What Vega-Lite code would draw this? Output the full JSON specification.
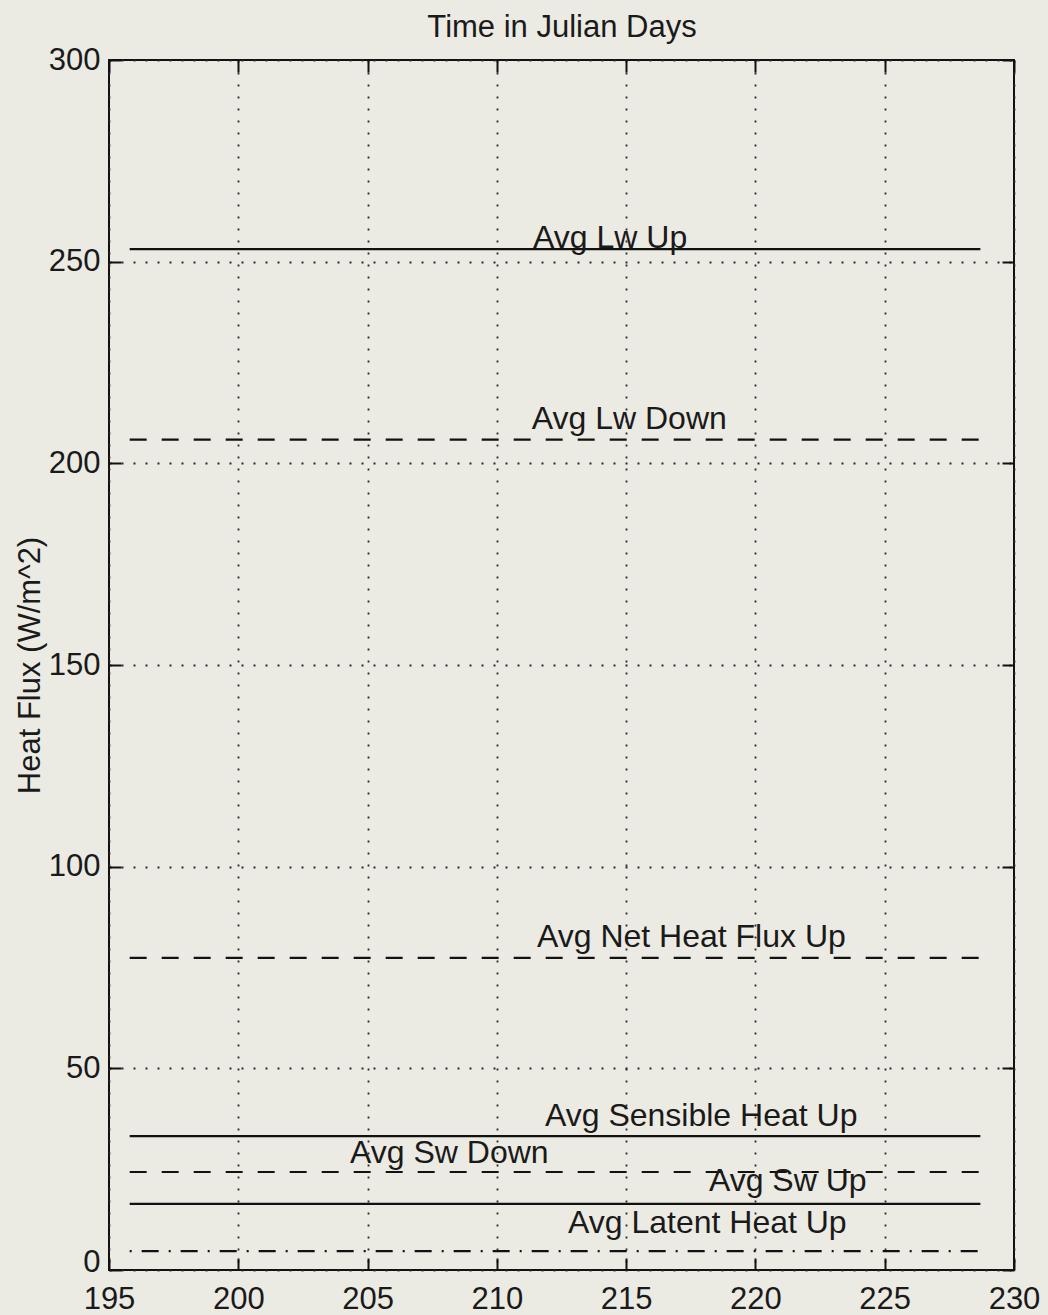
{
  "$schema": "https://vega.github.io/schema/vega-lite/v6.json",
  "width": 905,
  "height": 1210,
  "autosize": {"type": "none"},
  "padding": {"left": 109, "top": 60, "right": 34, "bottom": 45},
  "background": "#ecebe3",
  "config": {
    "view": {"stroke": "#111111", "strokeWidth": 2, "fill": "#ecebe3"},
    "font": "Liberation Sans",
    "axis": {
      "labelFont": "Liberation Sans",
      "labelFontSize": 31,
      "labelColor": "#1a1a1a",
      "titleFont": "Liberation Sans",
      "titleFontSize": 31,
      "titleFontWeight": "normal",
      "titleColor": "#1a1a1a",
      "domain": false,
      "tickColor": "#111111",
      "tickWidth": 2,
      "tickSize": -12,
      "gridColor": "#2a2a2a",
      "gridWidth": 1.8,
      "gridDash": [2, 10],
      "gridOpacity": 1,
      "labelFlush": false,
      "labelOverlap": false
    }
  },
  "datasets": {
    "lines": [
      {"series": "Avg Lw Up", "day": 195.8, "flux": 253.1},
      {"series": "Avg Lw Up", "day": 228.7, "flux": 253.1},
      {"series": "Avg Lw Down", "day": 195.8, "flux": 205.9},
      {"series": "Avg Lw Down", "day": 228.7, "flux": 205.9},
      {"series": "Avg Net Heat Flux Up", "day": 195.8, "flux": 77.4},
      {"series": "Avg Net Heat Flux Up", "day": 228.7, "flux": 77.4},
      {"series": "Avg Sensible Heat Up", "day": 195.8, "flux": 33.2},
      {"series": "Avg Sensible Heat Up", "day": 228.7, "flux": 33.2},
      {"series": "Avg Sw Down", "day": 195.8, "flux": 24.3},
      {"series": "Avg Sw Down", "day": 228.7, "flux": 24.3},
      {"series": "Avg Sw Up", "day": 195.8, "flux": 16.4},
      {"series": "Avg Sw Up", "day": 228.7, "flux": 16.4},
      {"series": "Avg Latent Heat Up", "day": 195.8, "flux": 4.7},
      {"series": "Avg Latent Heat Up", "day": 228.7, "flux": 4.7}
    ],
    "labels": [
      {"label": "Avg Lw Up", "day": 211.4, "flux": 253.3},
      {"label": "Avg Lw Down", "day": 211.35, "flux": 208.4},
      {"label": "Avg Net Heat Flux Up", "day": 211.55, "flux": 80.1},
      {"label": "Avg Sensible Heat Up", "day": 211.86, "flux": 35.7},
      {"label": "Avg Sw Down", "day": 204.32, "flux": 26.5},
      {"label": "Avg Sw Up", "day": 218.2, "flux": 19.6},
      {"label": "Avg Latent Heat Up", "day": 212.75, "flux": 9.2}
    ]
  },
  "layer": [
    {
      "data": {"name": "lines"},
      "mark": {"type": "line", "strokeWidth": 2.2, "color": "#111111", "clip": true},
      "encoding": {
        "x": {
          "field": "day", "type": "quantitative",
          "scale": {"domain": [195, 230], "nice": false, "zero": false},
          "axis": {"orient": "bottom", "values": [195, 200, 205, 210, 215, 220, 225, 230], "title": null, "grid": true, "labelPadding": 26, "labelBaseline": "top"}
        },
        "y": {
          "field": "flux", "type": "quantitative",
          "scale": {"domain": [0, 300], "nice": false},
          "axis": {
            "orient": "left", "values": [0, 50, 100, 150, 200, 250, 300],
            "title": "Heat Flux  (W/m^2)", "grid": true, "labelPadding": 21, "titlePadding": 2,
            "labelOffset": {"condition": {"test": "datum.value === 0", "value": -8}, "value": 0}
          }
        },
        "detail": {"field": "series"},
        "strokeDash": {
          "field": "series", "type": "nominal", "legend": null,
          "scale": {
            "domain": ["Avg Lw Up", "Avg Lw Down", "Avg Net Heat Flux Up", "Avg Sensible Heat Up", "Avg Sw Down", "Avg Sw Up", "Avg Latent Heat Up"],
            "range": [[1, 0], [17, 15], [17, 15], [1, 0], [17, 15], [1, 0], [2, 10, 17, 10]]
          }
        }
      }
    },
    {
      "data": {"name": "labels"},
      "mark": {"type": "text", "align": "left", "baseline": "alphabetic", "fontSize": 32, "font": "Liberation Sans", "color": "#1a1a1a"},
      "encoding": {
        "x": {
          "field": "day", "type": "quantitative",
          "scale": {"domain": [195, 230], "nice": false, "zero": false},
          "axis": {"orient": "top", "values": [195, 200, 205, 210, 215, 220, 225, 230], "labels": false, "grid": false, "title": "Time in Julian Days", "titlePadding": 16}
        },
        "y": {
          "field": "flux", "type": "quantitative",
          "scale": {"domain": [0, 300], "nice": false},
          "axis": {"orient": "right", "values": [0, 50, 100, 150, 200, 250, 300], "labels": false, "grid": false, "title": null}
        },
        "text": {"field": "label"}
      }
    }
  ],
  "resolve": {"axis": {"x": "independent", "y": "independent"}}
}
